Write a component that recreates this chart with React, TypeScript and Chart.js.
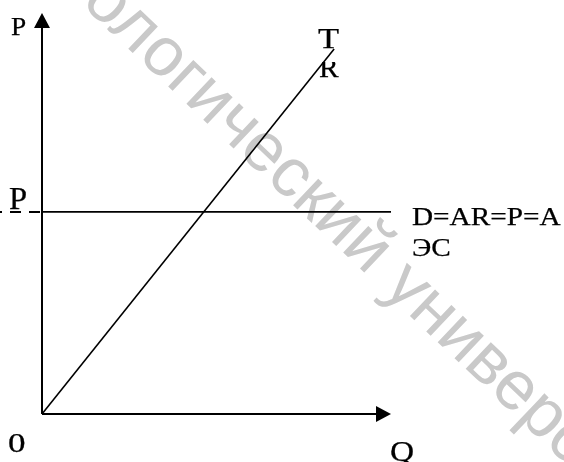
import React, { useEffect, useRef } from "react";
import { Chart, registerables } from "chart.js";

Chart.register(...registerables);

// Quantity / value data (arbitrary units, axis runs 0..10)
const axisMax = 10;
const trQuantity = [0, 8.37];
const trRevenue = [0, 9.1];
const priceQuantity = [0, 10];
const priceLevel = 5.04;

const axisLabels = { y: "P", x: "Q", origin: "0", price: "P" };
const trLabel = ["T", "R"];
const demandLabel = ["D=AR=P=A", "ЭС"];
const watermarkText = "Белорусский государственный технологический университет";
const watermarkBeforeAnchor = "Белорусский государственный технологический унив";
const watermarkAnchorChar = "е";

const SERIF = '"Liberation Serif", "Times New Roman", serif';

function drawStretched(ctx: CanvasRenderingContext2D, text: string, x: number, y: number, size: number, sx: number) {
  ctx.save();
  ctx.font = `${size}px ${SERIF}`;
  ctx.textAlign = "left";
  ctx.textBaseline = "alphabetic";
  ctx.translate(x, y);
  ctx.scale(sx, 1);
  ctx.fillText(text, 0, 0);
  ctx.lineWidth = 0.25;
  ctx.strokeText(text, 0, 0);
  ctx.restore();
}

const diagramPlugin = {
  id: "diagram",
  beforeDraw(chart: any) {
    const ctx: CanvasRenderingContext2D = chart.ctx;
    ctx.save();
    ctx.fillStyle = "#ffffff";
    ctx.fillRect(0, 0, chart.width, chart.height);
    // watermark, anchored on the centre of the "е" after "унив"
    const size = 69;
    const ang = (43.5 * Math.PI) / 180;
    ctx.font = `${size}px "Liberation Sans", Arial, sans-serif`;
    const off = ctx.measureText(watermarkBeforeAnchor).width + ctx.measureText(watermarkAnchorChar).width / 2;
    const half = (0.519 * size) / 2;
    const cx = 515 - Math.sin(ang) * half;
    const cy = 391 + Math.cos(ang) * half;
    ctx.translate(cx, cy);
    ctx.rotate(ang);
    ctx.fillStyle = "#c9c9c9";
    ctx.textBaseline = "alphabetic";
    ctx.fillText(watermarkText, -off, 0);
    ctx.restore();
  },
  afterDatasetsDraw(chart: any) {
    const ctx: CanvasRenderingContext2D = chart.ctx;
    const xs = chart.scales.x;
    const ys = chart.scales.y;
    const x0 = xs.getPixelForValue(0);
    const y0 = ys.getPixelForValue(0);
    const xTip = xs.getPixelForValue(axisMax);
    const yTip = ys.getPixelForValue(axisMax);
    const pY = ys.getPixelForValue(priceLevel);
    ctx.save();
    ctx.strokeStyle = "#000";
    ctx.fillStyle = "#000";
    ctx.lineWidth = 2;
    // y axis
    ctx.beginPath();
    ctx.moveTo(x0, y0);
    ctx.lineTo(x0, yTip + 14);
    ctx.stroke();
    ctx.beginPath();
    ctx.moveTo(x0, yTip);
    ctx.lineTo(x0 - 8, yTip + 15);
    ctx.lineTo(x0 + 8, yTip + 15);
    ctx.closePath();
    ctx.fill();
    // x axis
    ctx.beginPath();
    ctx.moveTo(x0, y0);
    ctx.lineTo(xTip - 14, y0);
    ctx.stroke();
    ctx.beginPath();
    ctx.moveTo(xTip, y0);
    ctx.lineTo(xTip - 15, y0 - 8);
    ctx.lineTo(xTip - 15, y0 + 8);
    ctx.closePath();
    ctx.fill();
    // dashed price marker left of axis
    ctx.setLineDash([11, 8]);
    ctx.beginPath();
    ctx.moveTo(x0 - 2, pY);
    ctx.lineTo(0, pY);
    ctx.stroke();
    ctx.setLineDash([]);

    // labels
    drawStretched(ctx, axisLabels.y, 11, 35, 26, 1.05);
    drawStretched(ctx, axisLabels.origin, 8, 452, 27, 1.3);
    drawStretched(ctx, axisLabels.x, 390, 461, 29, 1.15);
    drawStretched(ctx, axisLabels.price, 9, 209, 31, 1.05);
    drawStretched(ctx, trLabel[0], 318, 48, 30, 1.15);
    ctx.save();
    ctx.beginPath();
    ctx.rect(300, 62, 60, 30);
    ctx.clip();
    drawStretched(ctx, trLabel[1], 319, 77, 28, 1.05);
    ctx.restore();
    drawStretched(ctx, demandLabel[0], 412, 225, 25, 1.17);
    drawStretched(ctx, demandLabel[1], 412, 256, 25, 1.17);
    ctx.restore();
  },
};

export default function App() {
  const ref = useRef<HTMLCanvasElement | null>(null);
  useEffect(() => {
    if (!ref.current) return;
    const chart = new Chart(ref.current, {
      type: "line",
      data: {
        datasets: [
          {
            label: "TR",
            data: trQuantity.map((q, i) => ({ x: q, y: trRevenue[i] })),
            borderColor: "#000",
            borderWidth: 1.6,
            pointRadius: 0,
            clip: false,
          } as any,
          {
            label: "D=AR=P=AЭС",
            data: priceQuantity.map((q) => ({ x: q, y: priceLevel })),
            borderColor: "#000",
            borderWidth: 1.6,
            pointRadius: 0,
            clip: false,
          } as any,
        ],
      },
      options: {
        responsive: false,
        animation: false,
        devicePixelRatio: 1,
        layout: { padding: { left: 42, right: 173, top: 13, bottom: 48 } },
        plugins: { legend: { display: false }, tooltip: { enabled: false } },
        scales: {
          x: { type: "linear", min: 0, max: axisMax, display: false },
          y: { type: "linear", min: 0, max: axisMax, display: false },
        },
      },
      plugins: [diagramPlugin],
    });
    return () => chart.destroy();
  }, []);
  return (
    <div style={{ position: "fixed", left: 0, top: 0, width: 564, height: 462, background: "#fff" }}>
      <canvas ref={ref} width={564} height={462} style={{ display: "block" }} />
    </div>
  );
}
